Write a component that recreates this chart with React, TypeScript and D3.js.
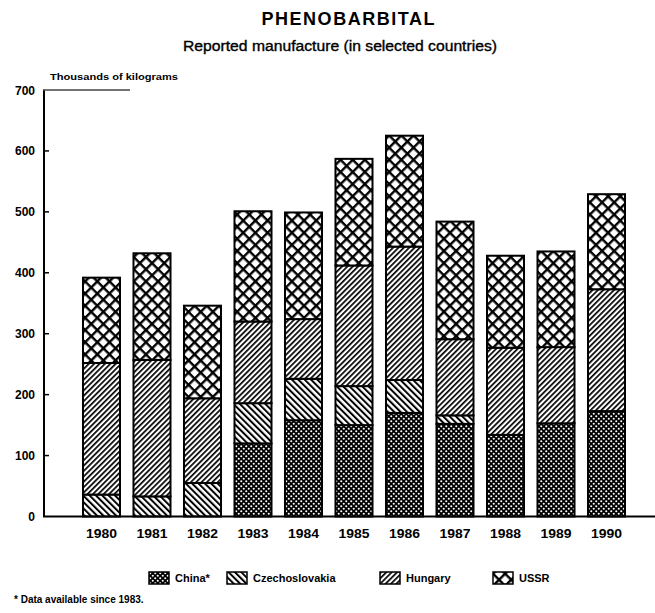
import React from "react";
import * as d3 from "d3";

const years = ["1980", "1981", "1982", "1983", "1984", "1985", "1986", "1987", "1988", "1989", "1990"];
const china = [0, 0, 0, 120, 158, 150, 170, 152, 134, 153, 173];
const czechoslovakia = [36, 33, 55, 66, 68, 64, 54, 14, 0, 0, 0];
const hungary = [216, 224, 139, 134, 98, 198, 219, 125, 143, 125, 200];
const ussr = [140, 175, 152, 181, 175, 175, 182, 193, 151, 157, 156];
const seriesKeys = ["China", "Czechoslovakia", "Hungary", "USSR"];
const legendLabels = ["China*", "Czechoslovakia", "Hungary", "USSR"];
const yTicks = [0, 100, 200, 300, 400, 500, 600, 700];

const W = 655;
const H = 613;
const FONT = "'Liberation Sans', Arial, Helvetica, sans-serif";

export default function App() {
  const rows = years.map((y, i) => ({
    year: y,
    China: china[i],
    Czechoslovakia: czechoslovakia[i],
    Hungary: hungary[i],
    USSR: ussr[i],
  }));
  const stack = d3.stack<any>().keys(seriesKeys);
  const layers = stack(rows);

  const x = d3.scaleBand<string>().domain(years).range([44, 664]).paddingInner(0.267).paddingOuter(0.772);
  const y = d3.scaleLinear().domain([0, 700]).range([516.5, 90]);

  const fills: Record<string, string> = {
    China: "url(#pChina)",
    Czechoslovakia: "url(#pCzech)",
    Hungary: "url(#pHung)",
    USSR: "url(#pUssr)",
  };

  const legendX = [149, 227, 380, 493];

  return (
    <svg width={W} height={H} style={{ position: "absolute", left: 0, top: 0, background: "#fff" }} fontFamily={FONT}>
      <defs>
        <pattern id="pChina" patternUnits="userSpaceOnUse" width={5} height={5}>
          <rect width={5} height={5} fill="#000" />
          <circle cx={1.25} cy={1.25} r={1.05} fill="#fff" />
          <circle cx={3.75} cy={3.75} r={1.05} fill="#fff" />
        </pattern>
        <pattern id="pCzech" patternUnits="userSpaceOnUse" width={4.5} height={4.5} patternTransform="rotate(-45)">
          <rect width={4.5} height={4.5} fill="#fff" />
          <rect x={0} y={0} width={2} height={4.5} fill="#000" />
        </pattern>
        <pattern id="pHung" patternUnits="userSpaceOnUse" width={3.8} height={3.8} patternTransform="rotate(45)">
          <rect width={3.8} height={3.8} fill="#fff" />
          <rect x={0} y={0} width={1.7} height={3.8} fill="#000" />
        </pattern>
        <pattern id="pUssr" patternUnits="userSpaceOnUse" width={8.6} height={8.6} patternTransform="rotate(45)">
          <rect width={8.6} height={8.6} fill="#fff" />
          <rect x={0} y={0} width={2.4} height={8.6} fill="#000" />
          <rect x={0} y={0} width={8.6} height={2.4} fill="#000" />
        </pattern>
      </defs>

      {/* Titles */}
      <text x={348} y={25} textAnchor="middle" fontSize={18} fontWeight="bold" textLength={173} lengthAdjust="spacing">
        PHENOBARBITAL
      </text>
      <text x={340} y={51} textAnchor="middle" fontSize={14} stroke="#000" strokeWidth={0.35} textLength={314} lengthAdjust="spacingAndGlyphs">
        Reported manufacture (in selected countries)
      </text>
      <text x={50} y={80} fontSize={9} fontWeight="bold" textLength={128} lengthAdjust="spacingAndGlyphs">
        Thousands of kilograms
      </text>

      {/* Bars */}
      {layers.map((layer) => (
        <g key={layer.key}>
          {layer.map((d, i) => {
            const h = y(d[0]) - y(d[1]);
            if (h <= 0) return null;
            return (
              <rect
                key={i}
                x={x(years[i])}
                y={y(d[1])}
                width={x.bandwidth()}
                height={h}
                fill={fills[layer.key]}
                stroke="#000"
                strokeWidth={2}
              />
            );
          })}
        </g>
      ))}

      {/* Axes */}
      <line x1={44} x2={44} y1={y(700)} y2={y(0)} stroke="#000" strokeWidth={2} />
      <line x1={43} x2={W} y1={y(0)} y2={y(0)} stroke="#000" strokeWidth={2} />
      <line x1={43} x2={130} y1={y(700)} y2={y(700)} stroke="#444" strokeWidth={1.5} />
      {yTicks.map((t) => (
        <g key={t}>
          {t > 0 && t < 700 && <line x1={44} x2={49} y1={y(t)} y2={y(t)} stroke="#000" strokeWidth={1.5} />}
          <text x={35} y={y(t) + 4.5} textAnchor="end" fontSize={12} fontWeight="bold">
            {t}
          </text>
        </g>
      ))}
      {years.map((yr) => (
        <text key={yr} x={(x(yr) as number) + x.bandwidth() / 2} y={538} textAnchor="middle" fontSize={12} fontWeight="bold" textLength={31} lengthAdjust="spacingAndGlyphs">
          {yr}
        </text>
      ))}

      {/* Legend */}
      {seriesKeys.map((k, i) => (
        <g key={k} transform={`translate(${legendX[i]},572)`}>
          <rect x={0} y={0} width={20} height={12} fill={fills[k]} stroke="#000" strokeWidth={1.5} />
          <text x={26} y={10} fontSize={11} fontWeight="bold">
            {legendLabels[i]}
          </text>
        </g>
      ))}

      <text x={14} y={603} fontSize={10} fontWeight="bold">
        * Data available since 1983.
      </text>
    </svg>
  );
}
